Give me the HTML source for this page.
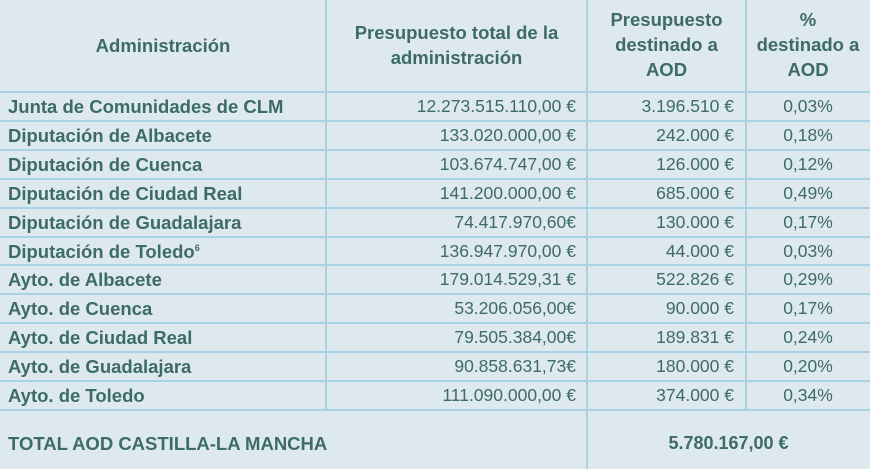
<!DOCTYPE html>
<html><head><meta charset="utf-8"><style>
body{margin:0;width:870px;height:469px;background:#dde9ec;overflow:hidden;font-family:"Liberation Sans",sans-serif;color:#3d6a6a;position:relative}
.v{position:absolute;top:0;width:2px;background:#a9d3e5}
.h{position:absolute;left:0;width:870px;height:2px;background:#a9d3e5}
.t{position:absolute;white-space:nowrap;font-size:17.5px}
.b{font-weight:bold}
.hd{position:absolute;text-align:center;font-weight:bold;font-size:18.5px;line-height:25px}
</style></head><body>
<div class="v" style="left:325px;height:410px"></div>
<div class="v" style="left:586px;height:469px"></div>
<div class="v" style="left:745px;height:410px"></div>
<div class="hd" style="left:0;width:326px;top:33px">Administración</div>
<div class="hd" style="left:326px;width:261px;top:20px">Presupuesto total de la<br>administración</div>
<div class="hd" style="left:587px;width:159px;top:7px">Presupuesto<br>destinado a<br>AOD</div>
<div class="hd" style="left:746px;width:124px;top:7px">%<br>destinado a<br>AOD</div>
<div id="rows"></div>
<div class="t b" style="left:8px;top:433px;font-size:18.5px">TOTAL AOD CASTILLA-LA MANCHA</div>
<div class="t b" style="left:587px;width:283px;text-align:center;top:433px;font-size:18px">5.780.167,00 €</div>
<script>
const names=["Junta de Comunidades de CLM","Diputación de Albacete","Diputación de Cuenca","Diputación de Ciudad Real","Diputación de Guadalajara","Diputación de Toledo<sup style='font-size:9px'>6</sup>","Ayto. de Albacete","Ayto. de Cuenca","Ayto. de Ciudad Real","Ayto. de Guadalajara","Ayto. de Toledo"];
const totals=["12.273.515.110,00 €","133.020.000,00 €","103.674.747,00 €","141.200.000,00 €","74.417.970,60€","136.947.970,00 €","179.014.529,31 €","53.206.056,00€","79.505.384,00€","90.858.631,73€","111.090.000,00 €"];
const aod=["3.196.510 €","242.000 €","126.000 €","685.000 €","130.000 €","44.000 €","522.826 €","90.000 €","189.831 €","180.000 €","374.000 €"];
const pct=["0,03%","0,18%","0,12%","0,49%","0,17%","0,03%","0,29%","0,17%","0,24%","0,20%","0,34%"];
const c=document.getElementById('rows');
const rh=28.9,y0=91;
for(let i=0;i<=names.length;i++){
 const l=document.createElement('div');l.className='h';l.style.top=(y0+i*rh)+'px';
 
 
 c.appendChild(l);
}
names.forEach((n,i)=>{
 const top=y0+i*rh+5;
 const a=document.createElement('div');a.className='t b';a.style.left='8px';a.style.top=top+'px';a.style.fontSize='18.5px';a.innerHTML=n;
 
 
 c.appendChild(a);
 const b=document.createElement('div');b.className='t';b.style.right=(870-576)+'px';b.style.top=top+'px';b.textContent=totals[i];
 
 
 c.appendChild(b);
 const d=document.createElement('div');d.className='t';d.style.right=(870-734)+'px';d.style.top=top+'px';d.textContent=aod[i];
 
 
 c.appendChild(d);
 const e=document.createElement('div');e.className='t';e.style.left='770px';e.style.width='76px';e.style.textAlign='center';e.style.top=top+'px';e.textContent=pct[i];
 
 
 c.appendChild(e);
});
</script>
</body></html>
